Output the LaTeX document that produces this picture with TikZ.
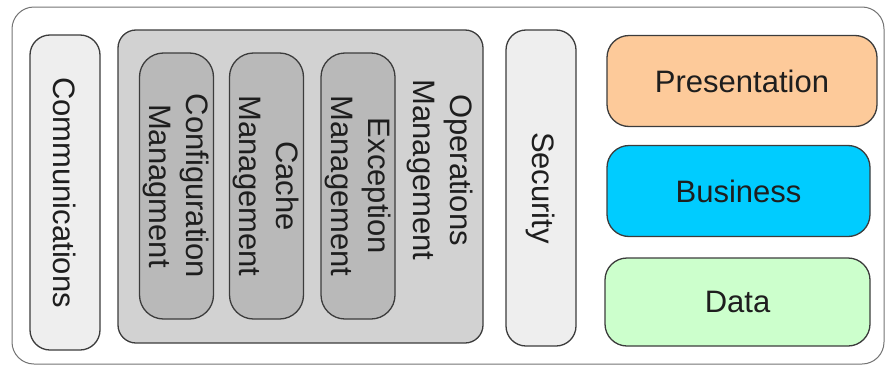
\documentclass[tikz,border=0pt]{standalone}
\usepackage{fontspec}
\setmainfont{Liberation Sans}
\usepackage{tikz}
\usetikzlibrary{positioning}
\definecolor{edgegray}{HTML}{3C3C3C}
\definecolor{textgray}{HTML}{1E1E1E}
\definecolor{palegray}{HTML}{EEEEEE}
\definecolor{midgray}{HTML}{D2D2D2}
\definecolor{darkgray}{HTML}{B9B9B9}
\definecolor{peach}{HTML}{FDCA9A}
\definecolor{skyblue}{HTML}{00CCFF}
\definecolor{mint}{HTML}{CCFFCC}
\tikzset{
  box/.style={draw=edgegray, line width=1.3pt, rounded corners=20pt, inner sep=0pt,
    align=center, text=textgray, font=\fontsize{31}{37}\selectfont},
  sidebox/.style={box, fill=palegray, rotate=-90, minimum height=70pt},
  innerbox/.style={box, fill=darkgray, rotate=-90, rounded corners=24pt,
    minimum width=266pt, minimum height=74pt},
  layerbox/.style={box, rounded corners=22pt, minimum height=91pt}
}
\begin{document}
\begin{tikzpicture}[x=1pt,y=-1pt]
\useasboundingbox (0,0) rectangle (889,367);
% outer frame
\node[draw=gray!90!black, line width=1pt, rounded corners=22pt, minimum width=872pt,
  minimum height=357pt] (frame) at (448,185.5) {};
% vertical boxes
\node[sidebox, minimum width=315pt] (comm) at (65,192.5) {Communications};
\node[box, fill=midgray, rounded corners=18pt, minimum width=365pt,
  minimum height=313pt] (ops) at (300.5,186.5) {};
\node[box, draw=none, fill=none, rotate=-90] (opslabel) at (440,170) {Operations\\Management};
\foreach \x/\name/\descr in {176.5/config/Configuration\\Managment,
  266.5/cache/Cache\\Management, 358/exception/Exception\\Management}
\node[innerbox] (\name) at (\x,186) {\descr};
\node[sidebox, minimum width=316pt] (security) at (541,188) {Security};
% layers
\node[layerbox, fill=peach, minimum width=270pt] (presentation) at (742,81) {Presentation};
\node[layerbox, fill=skyblue, minimum width=263pt] (business) at (738.5,191) {Business};
\node[layerbox, fill=mint, minimum width=265pt, minimum height=88pt] (data) at (737.5,302) {Data};
\end{tikzpicture}
\end{document}
